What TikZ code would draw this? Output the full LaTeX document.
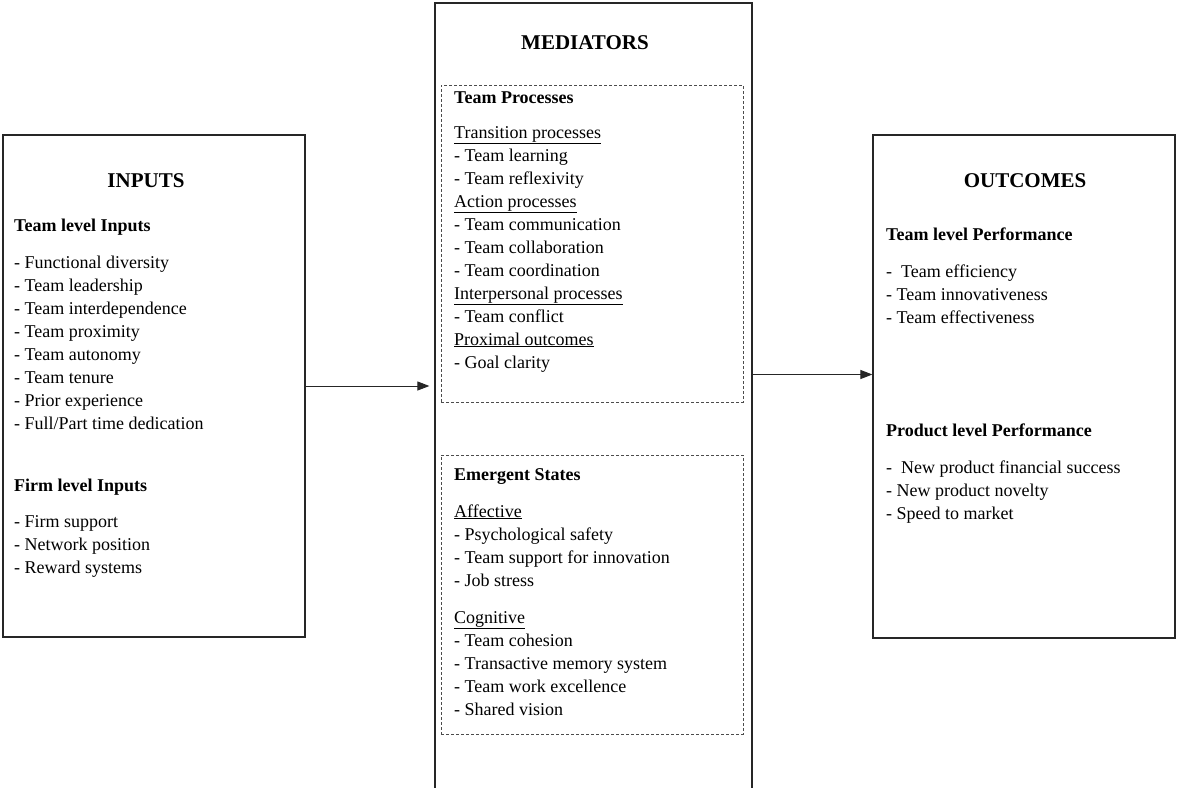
\documentclass[tikz,border=0pt]{standalone}
\usepackage{fontspec}
\setmainfont{Liberation Serif}
\usetikzlibrary{arrows.meta}
\tikzset{
  box/.style={draw=black!85, line width=1.2pt, inner sep=0pt},
  group/.style={draw=black!70, line width=1pt, dash pattern=on 3pt off 2pt, inner sep=0pt},
  title/.style={font=\fontsize{21}{25}\selectfont\bfseries, inner sep=0pt, anchor=base},
  head/.style={font=\fontsize{18}{23}\selectfont\bfseries, inner sep=0pt, anchor=base west},
  item/.style={font=\fontsize{18}{23}\selectfont, inner sep=0pt, anchor=base west},
  link/.style={-{Triangle[length=12pt,width=9pt]}, line width=1pt, black!85}
}
\begin{document}
\begin{tikzpicture}[x=1pt, y=-1pt]
  \useasboundingbox (0,0) rectangle (1177,787);
  \clip (0,0) rectangle (1177,787);
  % boxes
  \node[box, minimum width=302pt, minimum height=502pt] (inputs) at (154,386) {};
  \node[box, minimum width=317pt, minimum height=797pt] (mediators) at (593.5,401.5) {};
  \node[box, minimum width=302pt, minimum height=503pt] (outcomes) at (1024,386.5) {};
  \node[group, minimum width=302pt, minimum height=317pt] (processes) at (592,243.5) {};
  \node[group, minimum width=302pt, minimum height=279pt] (states) at (592,594.5) {};
  % inputs
  \node[title] (intitle) at (146,187) {INPUTS};
  \node[head] (teamin) at (14,231) {Team level Inputs};
  \foreach \t [count=\i] in {- Functional diversity, - Team leadership, - Team interdependence,
      - Team proximity, - Team autonomy, - Team tenure, - Prior experience, - Full/Part time dedication}
    \node[item] (teamin\i) at (14,{268+23*(\i-1)}) {\t};
  \node[head] (firmin) at (14,491) {Firm level Inputs};
  \foreach \t [count=\i] in {- Firm support, - Network position, - Reward systems}
    \node[item] (firmin\i) at (14,{527+23*(\i-1)}) {\t};
  % mediators
  \node[title] (medtitle) at (585,49) {MEDIATORS};
  \node[head] (prochead) at (454,103) {Team Processes};
  \foreach \t [count=\i] in {\underline{Transition processes}, - Team learning, - Team reflexivity,
      \underline{Action processes}, - Team communication, - Team collaboration, - Team coordination,
      \underline{Interpersonal processes}, - Team conflict, \underline{Proximal outcomes}, - Goal clarity}
    \node[item] (proc\i) at (454,{138+23*(\i-1)}) {\t};
  \node[head] (statehead) at (454,480) {Emergent States};
  \foreach \t [count=\i] in {\underline{Affective}, - Psychological safety, - Team support for innovation, - Job stress}
    \node[item] (aff\i) at (454,{517+23*(\i-1)}) {\t};
  \foreach \t [count=\i] in {\underline{Cognitive}, - Team cohesion, - Transactive memory system,
      - Team work excellence, - Shared vision}
    \node[item] (cog\i) at (454,{623+23*(\i-1)}) {\t};
  % outcomes
  \node[title] (outtitle) at (1025,187) {OUTCOMES};
  \node[head] (teamout) at (886,240) {Team level Performance};
  \foreach \t [count=\i] in {- \ Team efficiency, - Team innovativeness, - Team effectiveness}
    \node[item] (teamout\i) at (886,{277+23*(\i-1)}) {\t};
  \node[head] (prodout) at (886,436) {Product level Performance};
  \foreach \t [count=\i] in {- \ New product financial success, - New product novelty, - Speed to market}
    \node[item] (prodout\i) at (886,{473+23*(\i-1)}) {\t};
  % arrows
  \draw[link] (inputs.east) -- ([xshift=-5pt]inputs.east -| mediators.west);
  \draw[link] ([yshift=12pt]outcomes.west -| mediators.east) -- ([yshift=12pt]outcomes.west);
\end{tikzpicture}
\end{document}
